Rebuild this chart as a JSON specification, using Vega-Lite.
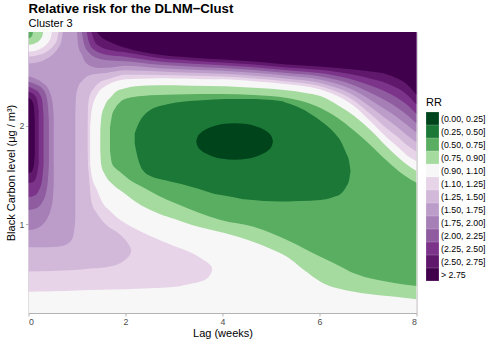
{
"$schema":"https://vega.github.io/schema/vega-lite/v6.json",
"width":388,"height":281,
"autosize":{"type":"none"},
"padding":{"left":28.5,"top":32,"right":73.5,"bottom":27},
"background":"white",
"config":{
 "font":"Liberation Sans",
 "view":{"stroke":"#B3B3B3","strokeWidth":1},
 "axis":{"domain":false,"grid":false,"tickColor":"#B3B3B3","tickSize":3,"labelFont":"Liberation Sans","labelFontSize":8.8,"labelColor":"#4D4D4D","labelPadding":1.5,"titleFont":"Liberation Sans","titleFontSize":11,"titleFontWeight":"normal","titleColor":"black"},
 "axisX":{"titlePadding":1},
 "axisY":{"titlePadding":3}
},
"title":{"text":"Relative risk for the DLNM−Clust","subtitle":"Cluster 3","anchor":"start","frame":"group","font":"Liberation Sans","fontSize":13.2,"fontWeight":"bold","color":"black","subtitleFont":"Liberation Sans","subtitleFontSize":11,"subtitleColor":"black","offset":2,"subtitlePadding":2},
"datasets":{
"regions":[
{"s":"bg","c":"(1.10, 1.25]"},
{"s":"p2a","c":"(1.25, 1.50]"},{"s":"p2b","c":"(1.25, 1.50]"},{"s":"p2c","c":"(1.25, 1.50]"},
{"s":"p3a","c":"(1.50, 1.75]"},{"s":"p3c","c":"(1.50, 1.75]"},
{"s":"p4l","c":"(1.75, 2.00]"},{"s":"p4t","c":"(1.75, 2.00]"},
{"s":"p5l","c":"(2.00, 2.25]"},{"s":"p5t","c":"(2.00, 2.25]"},
{"s":"p6l","c":"(2.25, 2.50]"},{"s":"p6t","c":"(2.25, 2.50]"},
{"s":"p7l","c":"(2.50, 2.75]"},{"s":"p7t","c":"(2.50, 2.75]"},
{"s":"p8l","c":"> 2.75"},{"s":"p8t","c":"> 2.75"},
{"s":"k15","c":"(1.25, 1.50]"},{"s":"k125","c":"(1.10, 1.25]"},{"s":"k11","c":"(0.90, 1.10]"},{"s":"k09","c":"(0.75, 0.90]"},{"s":"k075","c":"(0.50, 0.75]"},
{"s":"w1","c":"(0.90, 1.10]"},{"s":"w2","c":"(0.90, 1.10]"},
{"s":"g1","c":"(0.75, 0.90]"},{"s":"g2","c":"(0.50, 0.75]"},{"s":"g3","c":"(0.25, 0.50]"},{"s":"g4","c":"(0.00, 0.25]"}
],
"pts":[
{"s":"bg","x":0,"lo":0.1,"hi":2.95},{"s":"bg","x":8,"lo":0.1,"hi":2.95},
{"s":"p2a","x":0,"lo":0.52,"hi":2.95},{"s":"p2a","x":0.5,"lo":0.527,"hi":2.95},{"s":"p2a","x":0.96,"lo":0.536,"hi":2.95},{"s":"p2a","x":1.22,"lo":0.55,"hi":2.95},
{"s":"p2b","x":1.2,"lo":0.548,"hi":1.8},{"s":"p2b","x":1.236,"lo":0.55,"hi":1.55},{"s":"p2b","x":1.306,"lo":0.552,"hi":1.213},{"s":"p2b","x":1.4,"lo":0.554,"hi":1.12},{"s":"p2b","x":1.51,"lo":0.558,"hi":1.044},{"s":"p2b","x":1.65,"lo":0.57,"hi":0.975},{"s":"p2b","x":1.856,"lo":0.597,"hi":0.909},{"s":"p2b","x":1.99,"lo":0.638,"hi":0.845},{"s":"p2b","x":2.06,"lo":0.67,"hi":0.8},{"s":"p2b","x":2.1,"lo":0.7,"hi":0.765},{"s":"p2b","x":2.12,"lo":0.732,"hi":0.732},
{"s":"p2c","x":1.2,"lo":1.9,"hi":2.95},{"s":"p2c","x":1.22,"lo":2.15,"hi":2.95},{"s":"p2c","x":1.26,"lo":2.3,"hi":2.95},{"s":"p2c","x":1.35,"lo":2.38,"hi":2.95},{"s":"p2c","x":1.44,"lo":2.43,"hi":2.95},{"s":"p2c","x":1.7,"lo":2.48,"hi":2.95},{"s":"p2c","x":2.0,"lo":2.516,"hi":2.95},{"s":"p2c","x":2.7,"lo":2.514,"hi":2.95},{"s":"p2c","x":3.4,"lo":2.506,"hi":2.95},{"s":"p2c","x":4.0,"lo":2.499,"hi":2.95},{"s":"p2c","x":4.65,"lo":2.479,"hi":2.95},{"s":"p2c","x":5.33,"lo":2.449,"hi":2.95},{"s":"p2c","x":6.0,"lo":2.403,"hi":2.95},{"s":"p2c","x":6.37,"lo":2.341,"hi":2.95},{"s":"p2c","x":6.71,"lo":2.253,"hi":2.95},{"s":"p2c","x":7.06,"lo":2.113,"hi":2.95},{"s":"p2c","x":7.4,"lo":1.967,"hi":2.95},{"s":"p2c","x":7.6,"lo":1.889,"hi":2.95},{"s":"p2c","x":7.8,"lo":1.803,"hi":2.95},{"s":"p2c","x":8.0,"lo":1.736,"hi":2.95},
{"s":"p3a","x":0,"lo":0.767,"hi":2.95},{"s":"p3a","x":0.27,"lo":0.767,"hi":2.95},{"s":"p3a","x":0.5,"lo":0.77,"hi":2.95},{"s":"p3a","x":0.69,"lo":0.78,"hi":2.95},{"s":"p3a","x":0.8,"lo":0.8,"hi":2.95},{"s":"p3a","x":0.89,"lo":0.84,"hi":2.95},{"s":"p3a","x":0.93,"lo":0.9,"hi":2.95},{"s":"p3a","x":0.95,"lo":0.97,"hi":2.95},{"s":"p3a","x":0.965,"lo":1.04,"hi":2.95},
{"s":"p3c","x":0.96,"lo":2.1,"hi":2.95},{"s":"p3c","x":0.98,"lo":2.3,"hi":2.95},{"s":"p3c","x":1.03,"lo":2.4,"hi":2.95},{"s":"p3c","x":1.1,"lo":2.45,"hi":2.95},{"s":"p3c","x":1.31,"lo":2.52,"hi":2.95},{"s":"p3c","x":1.6,"lo":2.535,"hi":2.95},{"s":"p3c","x":2.0,"lo":2.561,"hi":2.95},{"s":"p3c","x":2.7,"lo":2.549,"hi":2.95},{"s":"p3c","x":3.4,"lo":2.536,"hi":2.95},{"s":"p3c","x":4.0,"lo":2.527,"hi":2.95},{"s":"p3c","x":4.65,"lo":2.507,"hi":2.95},{"s":"p3c","x":5.33,"lo":2.477,"hi":2.95},{"s":"p3c","x":6.0,"lo":2.436,"hi":2.95},{"s":"p3c","x":6.37,"lo":2.381,"hi":2.95},{"s":"p3c","x":6.71,"lo":2.306,"hi":2.95},{"s":"p3c","x":7.06,"lo":2.186,"hi":2.95},{"s":"p3c","x":7.4,"lo":2.059,"hi":2.95},{"s":"p3c","x":7.6,"lo":1.987,"hi":2.95},{"s":"p3c","x":7.8,"lo":1.906,"hi":2.95},{"s":"p3c","x":8.0,"lo":1.831,"hi":2.95},
{"s":"p4l","x":0,"lo":0.94,"hi":2.5},{"s":"p4l","x":0.15,"lo":0.955,"hi":2.475},{"s":"p4l","x":0.3,"lo":1.0,"hi":2.43},{"s":"p4l","x":0.4,"lo":1.07,"hi":2.38},{"s":"p4l","x":0.46,"lo":1.15,"hi":2.31},{"s":"p4l","x":0.5,"lo":1.25,"hi":2.22},{"s":"p4l","x":0.52,"lo":1.4,"hi":2.1},
{"s":"p4t","x":1.0,"lo":2.95,"hi":2.95},{"s":"p4t","x":1.03,"lo":2.8,"hi":2.95},{"s":"p4t","x":1.1,"lo":2.72,"hi":2.95},{"s":"p4t","x":1.17,"lo":2.645,"hi":2.95},{"s":"p4t","x":1.3,"lo":2.6,"hi":2.95},{"s":"p4t","x":1.44,"lo":2.585,"hi":2.95},{"s":"p4t","x":1.7,"lo":2.59,"hi":2.95},{"s":"p4t","x":2.0,"lo":2.607,"hi":2.95},{"s":"p4t","x":2.7,"lo":2.583,"hi":2.95},{"s":"p4t","x":3.4,"lo":2.567,"hi":2.95},{"s":"p4t","x":4.0,"lo":2.556,"hi":2.95},{"s":"p4t","x":4.65,"lo":2.536,"hi":2.95},{"s":"p4t","x":5.33,"lo":2.506,"hi":2.95},{"s":"p4t","x":6.0,"lo":2.469,"hi":2.95},{"s":"p4t","x":6.37,"lo":2.422,"hi":2.95},{"s":"p4t","x":6.71,"lo":2.359,"hi":2.95},{"s":"p4t","x":7.06,"lo":2.259,"hi":2.95},{"s":"p4t","x":7.4,"lo":2.151,"hi":2.95},{"s":"p4t","x":7.6,"lo":2.086,"hi":2.95},{"s":"p4t","x":7.8,"lo":2.009,"hi":2.95},{"s":"p4t","x":8.0,"lo":1.927,"hi":2.95},
{"s":"p5l","x":0,"lo":1.145,"hi":2.446},{"s":"p5l","x":0.15,"lo":1.16,"hi":2.42},{"s":"p5l","x":0.28,"lo":1.22,"hi":2.38},{"s":"p5l","x":0.36,"lo":1.32,"hi":2.31},{"s":"p5l","x":0.4,"lo":1.45,"hi":2.2},{"s":"p5l","x":0.42,"lo":1.6,"hi":2.05},
{"s":"p5t","x":1.1,"lo":2.95,"hi":2.95},{"s":"p5t","x":1.15,"lo":2.82,"hi":2.95},{"s":"p5t","x":1.25,"lo":2.74,"hi":2.95},{"s":"p5t","x":1.4,"lo":2.69,"hi":2.95},{"s":"p5t","x":1.7,"lo":2.66,"hi":2.95},{"s":"p5t","x":2.0,"lo":2.653,"hi":2.95},{"s":"p5t","x":2.7,"lo":2.617,"hi":2.95},{"s":"p5t","x":3.4,"lo":2.598,"hi":2.95},{"s":"p5t","x":4.0,"lo":2.584,"hi":2.95},{"s":"p5t","x":4.65,"lo":2.564,"hi":2.95},{"s":"p5t","x":5.33,"lo":2.534,"hi":2.95},{"s":"p5t","x":6.0,"lo":2.501,"hi":2.95},{"s":"p5t","x":6.37,"lo":2.463,"hi":2.95},{"s":"p5t","x":6.71,"lo":2.411,"hi":2.95},{"s":"p5t","x":7.06,"lo":2.331,"hi":2.95},{"s":"p5t","x":7.4,"lo":2.244,"hi":2.95},{"s":"p5t","x":7.6,"lo":2.184,"hi":2.95},{"s":"p5t","x":7.8,"lo":2.111,"hi":2.95},{"s":"p5t","x":8.0,"lo":2.023,"hi":2.95},
{"s":"p6l","x":0,"lo":1.277,"hi":2.395},{"s":"p6l","x":0.12,"lo":1.29,"hi":2.37},{"s":"p6l","x":0.22,"lo":1.35,"hi":2.33},{"s":"p6l","x":0.28,"lo":1.45,"hi":2.26},{"s":"p6l","x":0.31,"lo":1.6,"hi":2.1},
{"s":"p6t","x":1.2,"lo":2.95,"hi":2.95},{"s":"p6t","x":1.25,"lo":2.84,"hi":2.95},{"s":"p6t","x":1.35,"lo":2.77,"hi":2.95},{"s":"p6t","x":1.6,"lo":2.72,"hi":2.95},{"s":"p6t","x":2.0,"lo":2.699,"hi":2.95},{"s":"p6t","x":2.7,"lo":2.651,"hi":2.95},{"s":"p6t","x":3.4,"lo":2.629,"hi":2.95},{"s":"p6t","x":4.0,"lo":2.613,"hi":2.95},{"s":"p6t","x":4.65,"lo":2.593,"hi":2.95},{"s":"p6t","x":5.33,"lo":2.563,"hi":2.95},{"s":"p6t","x":6.0,"lo":2.534,"hi":2.95},{"s":"p6t","x":6.37,"lo":2.504,"hi":2.95},{"s":"p6t","x":6.71,"lo":2.464,"hi":2.95},{"s":"p6t","x":7.06,"lo":2.404,"hi":2.95},{"s":"p6t","x":7.4,"lo":2.336,"hi":2.95},{"s":"p6t","x":7.6,"lo":2.283,"hi":2.95},{"s":"p6t","x":7.8,"lo":2.214,"hi":2.95},{"s":"p6t","x":8.0,"lo":2.119,"hi":2.95},
{"s":"p7l","x":0,"lo":1.417,"hi":2.345},{"s":"p7l","x":0.1,"lo":1.43,"hi":2.32},{"s":"p7l","x":0.17,"lo":1.5,"hi":2.27},{"s":"p7l","x":0.21,"lo":1.62,"hi":2.15},
{"s":"p7t","x":1.3,"lo":2.95,"hi":2.95},{"s":"p7t","x":1.35,"lo":2.87,"hi":2.95},{"s":"p7t","x":1.45,"lo":2.81,"hi":2.95},{"s":"p7t","x":1.7,"lo":2.765,"hi":2.95},{"s":"p7t","x":2.0,"lo":2.744,"hi":2.95},{"s":"p7t","x":2.7,"lo":2.686,"hi":2.95},{"s":"p7t","x":3.4,"lo":2.659,"hi":2.95},{"s":"p7t","x":4.0,"lo":2.641,"hi":2.95},{"s":"p7t","x":4.65,"lo":2.621,"hi":2.95},{"s":"p7t","x":5.33,"lo":2.591,"hi":2.95},{"s":"p7t","x":6.0,"lo":2.567,"hi":2.95},{"s":"p7t","x":6.37,"lo":2.544,"hi":2.95},{"s":"p7t","x":6.71,"lo":2.517,"hi":2.95},{"s":"p7t","x":7.06,"lo":2.477,"hi":2.95},{"s":"p7t","x":7.4,"lo":2.428,"hi":2.95},{"s":"p7t","x":7.6,"lo":2.381,"hi":2.95},{"s":"p7t","x":7.8,"lo":2.317,"hi":2.95},{"s":"p7t","x":8.0,"lo":2.214,"hi":2.95},
{"s":"p8l","x":0,"lo":1.518,"hi":2.28},{"s":"p8l","x":0.06,"lo":1.53,"hi":2.26},{"s":"p8l","x":0.11,"lo":1.6,"hi":2.2},{"s":"p8l","x":0.13,"lo":1.72,"hi":2.05},
{"s":"p8t","x":1.41,"lo":2.95,"hi":2.95},{"s":"p8t","x":1.5,"lo":2.9,"hi":2.95},{"s":"p8t","x":1.65,"lo":2.856,"hi":2.95},{"s":"p8t","x":2.0,"lo":2.79,"hi":2.95},{"s":"p8t","x":2.7,"lo":2.72,"hi":2.95},{"s":"p8t","x":3.4,"lo":2.69,"hi":2.95},{"s":"p8t","x":4.0,"lo":2.67,"hi":2.95},{"s":"p8t","x":4.65,"lo":2.65,"hi":2.95},{"s":"p8t","x":5.33,"lo":2.62,"hi":2.95},{"s":"p8t","x":6.0,"lo":2.6,"hi":2.95},{"s":"p8t","x":6.37,"lo":2.585,"hi":2.95},{"s":"p8t","x":6.71,"lo":2.57,"hi":2.95},{"s":"p8t","x":7.06,"lo":2.55,"hi":2.95},{"s":"p8t","x":7.4,"lo":2.52,"hi":2.95},{"s":"p8t","x":7.6,"lo":2.48,"hi":2.95},{"s":"p8t","x":7.8,"lo":2.42,"hi":2.95},{"s":"p8t","x":8.0,"lo":2.31,"hi":2.95},
{"s":"k15","x":0,"lo":2.63,"hi":2.95},{"s":"k15","x":0.284,"lo":2.657,"hi":2.95},{"s":"k15","x":0.426,"lo":2.694,"hi":2.95},{"s":"k15","x":0.533,"lo":2.738,"hi":2.95},{"s":"k15","x":0.618,"lo":2.792,"hi":2.95},{"s":"k15","x":0.675,"lo":2.85,"hi":2.95},{"s":"k15","x":0.71,"lo":2.95,"hi":2.95},
{"s":"k125","x":0,"lo":2.7,"hi":2.95},{"s":"k125","x":0.248,"lo":2.721,"hi":2.95},{"s":"k125","x":0.372,"lo":2.75,"hi":2.95},{"s":"k125","x":0.465,"lo":2.785,"hi":2.95},{"s":"k125","x":0.539,"lo":2.827,"hi":2.95},{"s":"k125","x":0.589,"lo":2.872,"hi":2.95},{"s":"k125","x":0.62,"lo":2.95,"hi":2.95},
{"s":"k11","x":0,"lo":2.75,"hi":2.95},{"s":"k11","x":0.192,"lo":2.767,"hi":2.95},{"s":"k11","x":0.288,"lo":2.79,"hi":2.95},{"s":"k11","x":0.36,"lo":2.818,"hi":2.95},{"s":"k11","x":0.418,"lo":2.851,"hi":2.95},{"s":"k11","x":0.456,"lo":2.888,"hi":2.95},{"s":"k11","x":0.48,"lo":2.95,"hi":2.95},
{"s":"k09","x":0,"lo":2.82,"hi":2.95},{"s":"k09","x":0.12,"lo":2.831,"hi":2.95},{"s":"k09","x":0.18,"lo":2.846,"hi":2.95},{"s":"k09","x":0.225,"lo":2.864,"hi":2.95},{"s":"k09","x":0.261,"lo":2.886,"hi":2.95},{"s":"k09","x":0.285,"lo":2.909,"hi":2.95},{"s":"k09","x":0.3,"lo":2.95,"hi":2.95},
{"s":"k075","x":0,"lo":2.886,"hi":2.95},{"s":"k075","x":0.036,"lo":2.891,"hi":2.95},{"s":"k075","x":0.054,"lo":2.899,"hi":2.95},{"s":"k075","x":0.068,"lo":2.908,"hi":2.95},{"s":"k075","x":0.078,"lo":2.918,"hi":2.95},{"s":"k075","x":0.086,"lo":2.93,"hi":2.95},{"s":"k075","x":0.09,"lo":2.95,"hi":2.95},
{"s":"w1","x":0,"lo":0.1,"hi":0.316},{"s":"w1","x":0.5,"lo":0.1,"hi":0.32},{"s":"w1","x":1.0,"lo":0.1,"hi":0.328},{"s":"w1","x":1.5,"lo":0.1,"hi":0.335},{"s":"w1","x":2.0,"lo":0.1,"hi":0.342},{"s":"w1","x":2.5,"lo":0.1,"hi":0.352},{"s":"w1","x":3.03,"lo":0.1,"hi":0.367},{"s":"w1","x":3.37,"lo":0.1,"hi":0.4},{"s":"w1","x":3.55,"lo":0.1,"hi":0.42},{"s":"w1","x":3.65,"lo":0.1,"hi":0.44},{"s":"w1","x":3.72,"lo":0.1,"hi":0.47},{"s":"w1","x":3.76,"lo":0.1,"hi":0.5},{"s":"w1","x":3.79,"lo":0.1,"hi":0.55},{"s":"w1","x":3.83,"lo":0.1,"hi":0.9},{"s":"w1","x":8.0,"lo":0.1,"hi":0.9},
{"s":"w2","x":1.27,"lo":1.62,"hi":1.98},{"s":"w2","x":1.3,"lo":1.5,"hi":2.15},{"s":"w2","x":1.41,"lo":1.35,"hi":2.31},{"s":"w2","x":1.58,"lo":1.18,"hi":2.4},{"s":"w2","x":1.65,"lo":1.15,"hi":2.42},{"s":"w2","x":1.8,"lo":1.08,"hi":2.45},{"s":"w2","x":2.0,"lo":1.01,"hi":2.47},{"s":"w2","x":2.3,"lo":0.93,"hi":2.475},{"s":"w2","x":2.7,"lo":0.84,"hi":2.48},{"s":"w2","x":3.0,"lo":0.78,"hi":2.478},{"s":"w2","x":3.4,"lo":0.7,"hi":2.475},{"s":"w2","x":3.6,"lo":0.64,"hi":2.472},{"s":"w2","x":3.72,"lo":0.6,"hi":2.471},{"s":"w2","x":3.77,"lo":0.575,"hi":2.47},{"s":"w2","x":3.79,"lo":0.55,"hi":2.47},{"s":"w2","x":3.83,"lo":0.3,"hi":2.469},{"s":"w2","x":4.0,"lo":0.3,"hi":2.47},{"s":"w2","x":4.65,"lo":0.3,"hi":2.45},{"s":"w2","x":5.33,"lo":0.3,"hi":2.42},{"s":"w2","x":6.0,"lo":0.3,"hi":2.37},{"s":"w2","x":6.37,"lo":0.3,"hi":2.3},{"s":"w2","x":6.71,"lo":0.3,"hi":2.2},{"s":"w2","x":7.06,"lo":0.3,"hi":2.04},{"s":"w2","x":7.4,"lo":0.3,"hi":1.875},{"s":"w2","x":7.6,"lo":0.3,"hi":1.79},{"s":"w2","x":7.8,"lo":0.3,"hi":1.7},{"s":"w2","x":8.0,"lo":0.3,"hi":1.64},
{"s":"g1","x":1.48,"lo":1.75,"hi":1.95},{"s":"g1","x":1.5,"lo":1.6,"hi":2.08},{"s":"g1","x":1.58,"lo":1.5,"hi":2.21},{"s":"g1","x":1.7,"lo":1.42,"hi":2.29},{"s":"g1","x":1.79,"lo":1.38,"hi":2.34},{"s":"g1","x":1.99,"lo":1.31,"hi":2.38},{"s":"g1","x":2.2,"lo":1.23,"hi":2.4},{"s":"g1","x":2.68,"lo":1.11,"hi":2.41},{"s":"g1","x":3.03,"lo":1.05,"hi":2.41},{"s":"g1","x":3.37,"lo":0.993,"hi":2.405},{"s":"g1","x":4.06,"lo":0.909,"hi":2.4},{"s":"g1","x":4.64,"lo":0.82,"hi":2.385},{"s":"g1","x":5.0,"lo":0.75,"hi":2.375},{"s":"g1","x":5.33,"lo":0.67,"hi":2.36},{"s":"g1","x":5.68,"lo":0.536,"hi":2.335},{"s":"g1","x":6.02,"lo":0.418,"hi":2.3},{"s":"g1","x":6.37,"lo":0.35,"hi":2.21},{"s":"g1","x":6.71,"lo":0.316,"hi":2.1},{"s":"g1","x":7.06,"lo":0.29,"hi":1.95},{"s":"g1","x":7.4,"lo":0.273,"hi":1.78},{"s":"g1","x":7.74,"lo":0.255,"hi":1.63},{"s":"g1","x":8.0,"lo":0.24,"hi":1.54},
{"s":"g2","x":1.68,"lo":1.75,"hi":1.98},{"s":"g2","x":1.72,"lo":1.62,"hi":2.1},{"s":"g2","x":1.79,"lo":1.57,"hi":2.18},{"s":"g2","x":1.89,"lo":1.53,"hi":2.24},{"s":"g2","x":2.06,"lo":1.46,"hi":2.28},{"s":"g2","x":2.34,"lo":1.38,"hi":2.3},{"s":"g2","x":2.68,"lo":1.29,"hi":2.31},{"s":"g2","x":3.03,"lo":1.213,"hi":2.315},{"s":"g2","x":3.5,"lo":1.12,"hi":2.32},{"s":"g2","x":3.96,"lo":1.044,"hi":2.32},{"s":"g2","x":4.64,"lo":0.976,"hi":2.31},{"s":"g2","x":5.33,"lo":0.84,"hi":2.28},{"s":"g2","x":5.7,"lo":0.75,"hi":2.24},{"s":"g2","x":6.02,"lo":0.67,"hi":2.18},{"s":"g2","x":6.37,"lo":0.587,"hi":2.08},{"s":"g2","x":6.71,"lo":0.503,"hi":1.95},{"s":"g2","x":7.06,"lo":0.45,"hi":1.8},{"s":"g2","x":7.4,"lo":0.418,"hi":1.64},{"s":"g2","x":7.74,"lo":0.39,"hi":1.5},{"s":"g2","x":8.0,"lo":0.374,"hi":1.42},
{"s":"g3","x":2.19,"lo":1.82,"hi":1.92},{"s":"g3","x":2.24,"lo":1.7,"hi":1.99},{"s":"g3","x":2.3,"lo":1.6,"hi":2.05},{"s":"g3","x":2.41,"lo":1.52,"hi":2.12},{"s":"g3","x":2.51,"lo":1.49,"hi":2.16},{"s":"g3","x":2.8,"lo":1.45,"hi":2.21},{"s":"g3","x":3.13,"lo":1.41,"hi":2.24},{"s":"g3","x":3.5,"lo":1.36,"hi":2.255},{"s":"g3","x":3.82,"lo":1.31,"hi":2.265},{"s":"g3","x":4.06,"lo":1.29,"hi":2.27},{"s":"g3","x":4.51,"lo":1.25,"hi":2.27},{"s":"g3","x":5.2,"lo":1.23,"hi":2.25},{"s":"g3","x":5.33,"lo":1.232,"hi":2.23},{"s":"g3","x":5.6,"lo":1.235,"hi":2.18},{"s":"g3","x":6.02,"lo":1.246,"hi":2.05},{"s":"g3","x":6.3,"lo":1.28,"hi":1.93},{"s":"g3","x":6.44,"lo":1.31,"hi":1.84},{"s":"g3","x":6.55,"lo":1.38,"hi":1.72},{"s":"g3","x":6.61,"lo":1.45,"hi":1.64},{"s":"g3","x":6.64,"lo":1.54,"hi":1.54},
{"s":"g4","x":3.46,"lo":1.84,"hi":1.84},{"s":"g4","x":3.48,"lo":1.799,"hi":1.881},{"s":"g4","x":3.55,"lo":1.754,"hi":1.926},{"s":"g4","x":3.65,"lo":1.72,"hi":1.96},{"s":"g4","x":3.8,"lo":1.688,"hi":1.992},{"s":"g4","x":4.0,"lo":1.664,"hi":2.016},{"s":"g4","x":4.25,"lo":1.655,"hi":2.025},{"s":"g4","x":4.5,"lo":1.664,"hi":2.016},{"s":"g4","x":4.7,"lo":1.688,"hi":1.992},{"s":"g4","x":4.85,"lo":1.72,"hi":1.96},{"s":"g4","x":4.95,"lo":1.754,"hi":1.926},{"s":"g4","x":5.02,"lo":1.799,"hi":1.881},{"s":"g4","x":5.04,"lo":1.84,"hi":1.84}
]},
"data":{"name":"pts"},
"transform":[{"lookup":"s","from":{"data":{"name":"regions"},"key":"s","fields":["c"]}}],
"mark":{"type":"area","interpolate":"monotone","clip":true,"opacity":1,"strokeWidth":0},
"encoding":{
 "x":{"field":"x","type":"quantitative","scale":{"domain":[0,8],"nice":false,"zero":false},"axis":{"values":[0,2,4,6,8],"title":"Lag (weeks)"}},
 "y":{"field":"lo","type":"quantitative","stack":null,"scale":{"domain":[0.1,2.95],"nice":false,"zero":false},"axis":{"values":[1,2],"title":"Black Carbon level (μg / m³)"}},
 "y2":{"field":"hi"},
 "detail":{"field":"s"},
 "color":{"field":"c","type":"nominal",
  "scale":{"domain":["(0.00, 0.25]","(0.25, 0.50]","(0.50, 0.75]","(0.75, 0.90]","(0.90, 1.10]","(1.10, 1.25]","(1.25, 1.50]","(1.50, 1.75]","(1.75, 2.00]","(2.00, 2.25]","(2.25, 2.50]","(2.50, 2.75]","> 2.75"],
   "range":["#00441B","#1B7837","#5AAE61","#A6DBA0","#F7F7F7","#E7D4E8","#D2B9DA","#BC9DCA","#A57FB5","#8F5CA0","#7B3489","#5F186B","#40004B"]},
  "legend":{"title":"RR","orient":"none","legendX":397.5,"legendY":65,"symbolType":"square","symbolSize":164,"symbolStrokeWidth":0,"symbolOpacity":1,"rowPadding":0,"labelFont":"Liberation Sans","labelFontSize":8.8,"labelColor":"black","labelOffset":2,"titleFont":"Liberation Sans","titleFontSize":11,"titleFontWeight":"normal","titleColor":"black","titlePadding":4}}
}
}
